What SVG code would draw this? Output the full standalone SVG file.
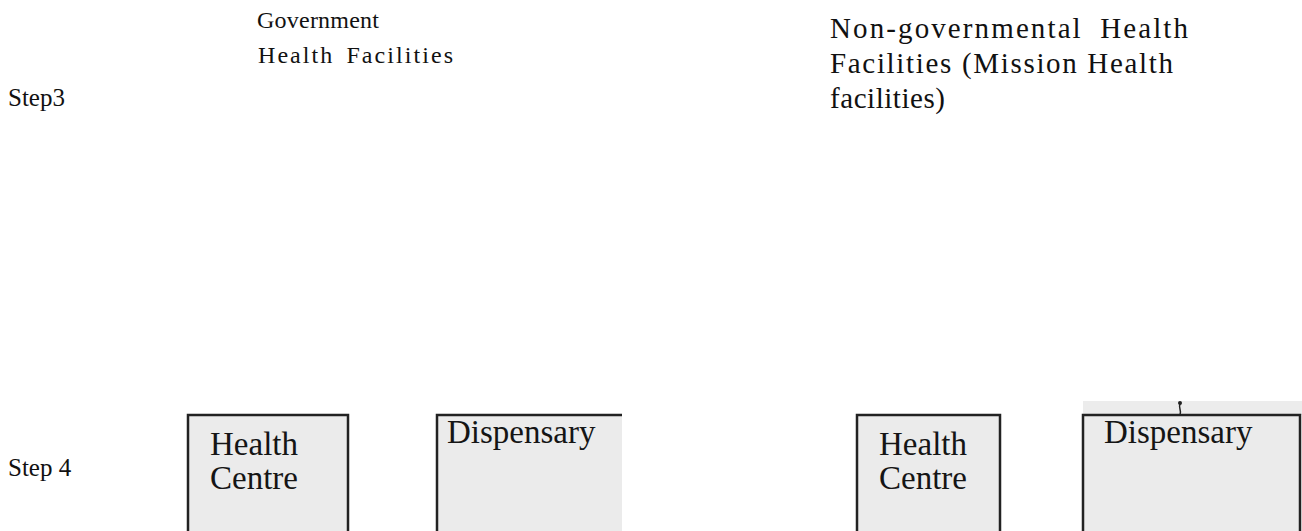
<svg xmlns="http://www.w3.org/2000/svg" width="1302" height="531" viewBox="0 0 1302 531">
<style>
.hdr{font-family:"Liberation Serif","Times New Roman",serif;fill:#111;}
.box{fill:#ebebeb;stroke:#222;stroke-width:2.5;}
.bt{font-family:"Liberation Serif","Times New Roman",serif;fill:#151515;font-size:33px;}
</style>
<rect width="1302" height="531" fill="#ffffff"/>
<g id="step3"><text class="hdr" x="8" y="106" font-size="25">Step3</text></g>
<g id="step4"><text class="hdr" x="8" y="476" font-size="25">Step 4</text></g>
<g id="gov">
<text class="hdr" x="257" y="28" font-size="24" textLength="122" lengthAdjust="spacing">Government</text>
<text class="hdr" x="258" y="63" font-size="24" textLength="195" lengthAdjust="spacing" word-spacing="4">Health Facilities</text>
</g>
<g id="nongov">
<text class="hdr" x="830" y="38" font-size="29" textLength="358" lengthAdjust="spacing" word-spacing="8">Non-governmental Health</text>
<text class="hdr" x="830" y="73" font-size="29" textLength="343" lengthAdjust="spacing">Facilities (Mission Health</text>
<text class="hdr" x="830" y="108" font-size="29" textLength="115" lengthAdjust="spacing">facilities)</text>
</g>
<g id="connectors"></g>
<g id="hc1">
<rect class="box" x="188" y="415" width="160" height="130"/>
<text class="bt" x="210" y="455">Health</text>
<text class="bt" x="210" y="489">Centre</text>
</g>
<g id="disp1">
<rect x="437" y="415" width="185" height="130" fill="#ebebeb"/>
<path d="M437,545 V415 H622" fill="none" stroke="#222" stroke-width="2.5"/>
<text class="bt" x="447" y="443">Dispensary</text>
</g>
<g id="hc2">
<rect class="box" x="857" y="415" width="143" height="130"/>
<text class="bt" x="879" y="455">Health</text>
<text class="bt" x="879" y="489">Centre</text>
</g>
<g id="disp2">
<rect x="1083" y="401" width="219" height="14" fill="#ececec"/>
<rect class="box" x="1083" y="415" width="217" height="130"/>
<path d="M1180,415 C1182,410 1178,408 1180,404" fill="none" stroke="#222" stroke-width="1.5"/>
<circle cx="1180" cy="403" r="2" fill="#222"/>
<text class="bt" x="1104" y="443">Dispensary</text>
</g>
</svg>
